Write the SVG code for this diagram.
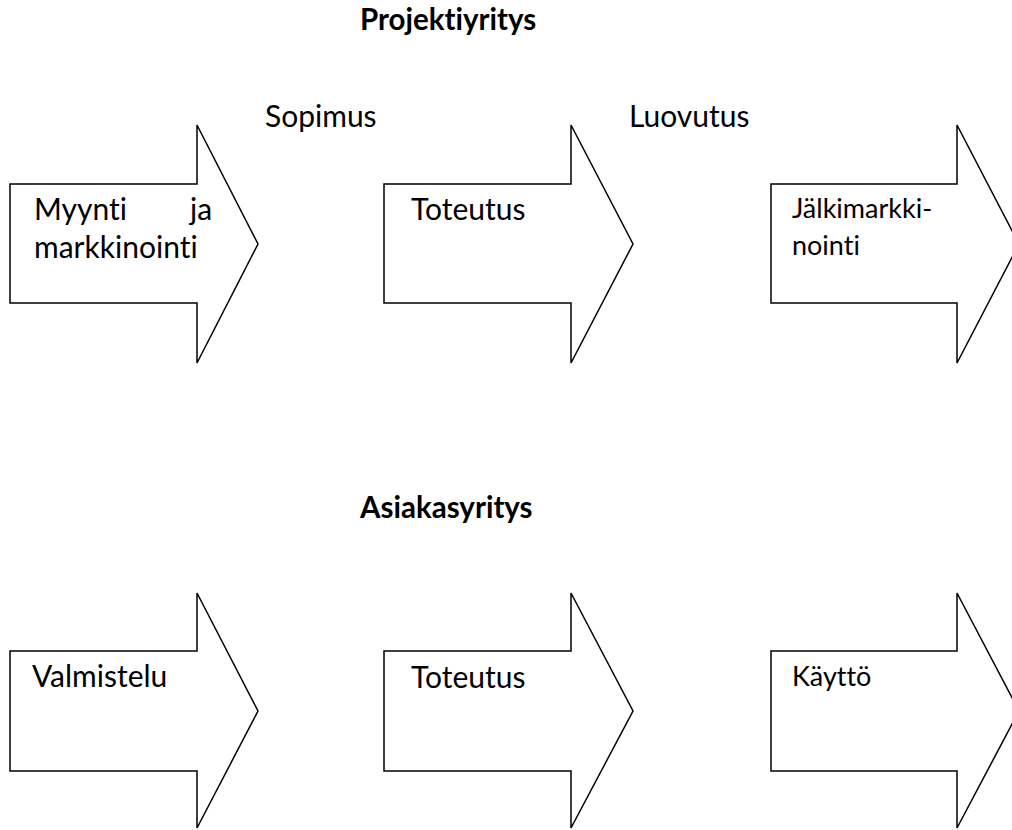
<svg xmlns="http://www.w3.org/2000/svg" width="1012" height="830" viewBox="0 0 1012 830">
<style>
.bg{fill:#ffffff}
.arrow{fill:#ffffff;stroke:#000000;stroke-width:1.5;stroke-linejoin:miter}
text{font-variant-ligatures:none;font-feature-settings:"liga" 0,"dlig" 0}
.t{font-family:Lato,"Open Sans","Liberation Sans",sans-serif;font-size:30px;fill:#000000}
.ts{font-family:Lato,"Open Sans","Liberation Sans",sans-serif;font-size:27px;fill:#000000}
.h{font-family:Lato,"Open Sans","Liberation Sans",sans-serif;font-size:29.5px;font-weight:bold;fill:#000000}
</style>
<rect class="bg" x="0" y="0" width="1012" height="830"/>
<g id="title-projektiyritys"><text class="h" x="360" y="30">Projektiyritys</text></g>
<g id="label-sopimus"><text class="t" x="265" y="127">Sopimus</text></g>
<g id="label-luovutus"><text class="t" x="629" y="127">Luovutus</text></g>
<g id="title-asiakasyritys"><text class="h" x="360" y="518">Asiakasyritys</text></g>
<g id="connectors"></g>
<g id="node-myynti">
<polygon class="arrow" points="10,184 197,184 197,125 258,244 197,363 197,303 10,303"/>
<text class="t"><tspan x="34" y="220">Myynti</tspan><tspan x="190" y="220">ja</tspan><tspan x="34" y="258">markkinointi</tspan></text>
</g>
<g id="node-toteutus-1">
<polygon class="arrow" points="384,184 571,184 571,125 633,244 571,363 571,303 384,303"/>
<text class="t" x="411" y="220">Toteutus</text>
</g>
<g id="node-jalkimarkkinointi">
<polygon class="arrow" points="771,184 957,184 957,125 1019,244 957,363 957,303 771,303"/>
<text class="ts"><tspan x="792" y="218">Jälkimarkki-</tspan><tspan x="792" y="255">nointi</tspan></text>
</g>
<g id="node-valmistelu">
<polygon class="arrow" points="10,651 197,651 197,593 258,711 197,828 197,771 10,771"/>
<text class="t" x="32" y="687">Valmistelu</text>
</g>
<g id="node-toteutus-2">
<polygon class="arrow" points="384,651 571,651 571,593 633,711 571,828 571,771 384,771"/>
<text class="t" x="411" y="688">Toteutus</text>
</g>
<g id="node-kaytto">
<polygon class="arrow" points="771,651 957,651 957,593 1019,711 957,828 957,771 771,771"/>
<text class="ts" x="792" y="686">Käyttö</text>
</g>
</svg>
